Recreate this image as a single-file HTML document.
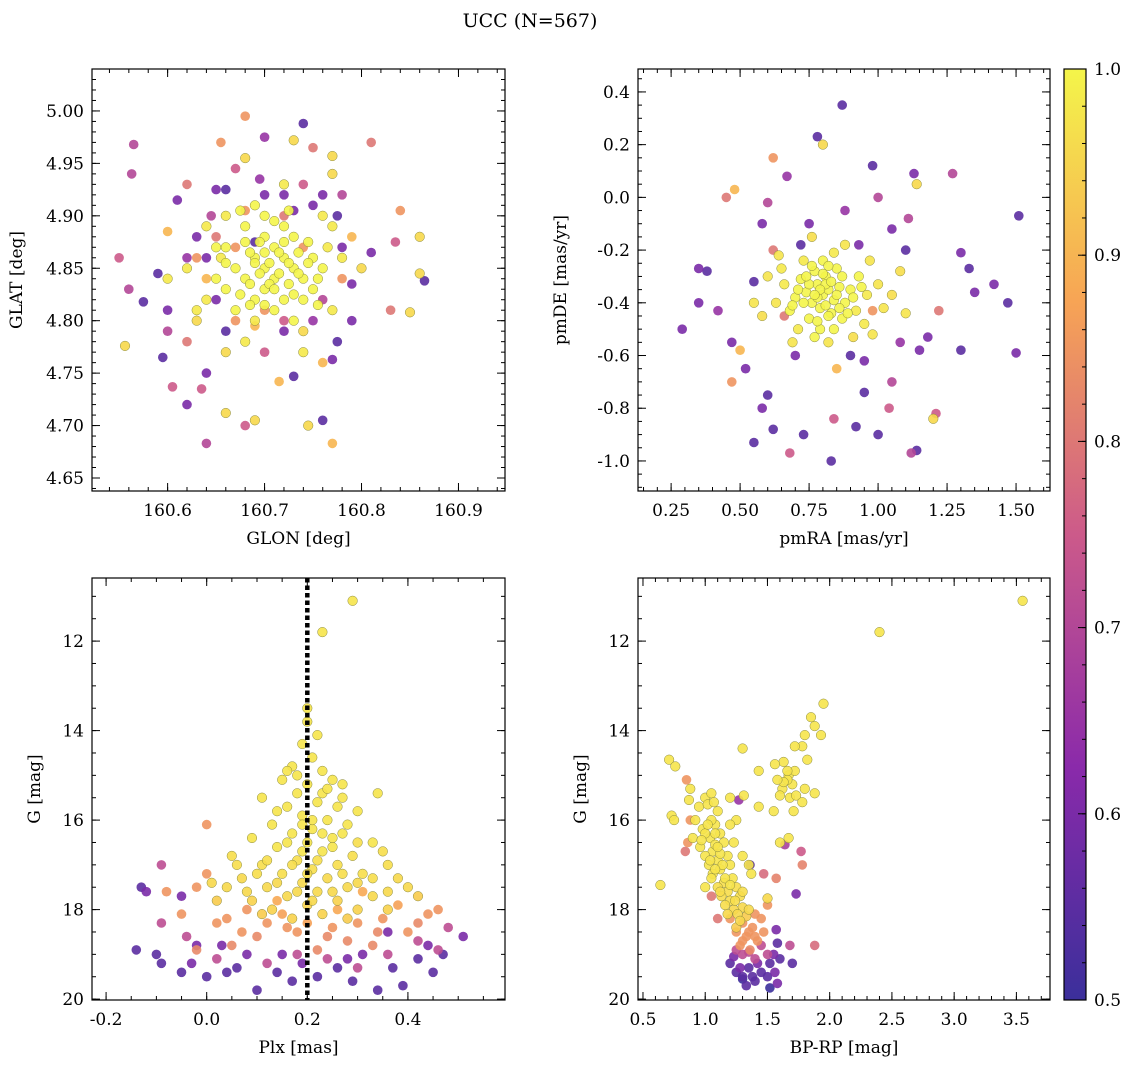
<!DOCTYPE html>
<html><head><meta charset="utf-8"><style>
html,body{margin:0;padding:0;background:#fff;}
svg{display:block;font-family:"DejaVu Serif","Liberation Serif",serif;}
</style></head><body>
<svg id="fig" width="1136" height="1068" viewBox="0 0 1136 1068" xmlns="http://www.w3.org/2000/svg">
<text x="530" y="27" font-size="19" text-anchor="middle">UCC (N=567)</text>
<defs><linearGradient id="plasma" x1="0" y1="1" x2="0" y2="0">
<stop offset="0" stop-color="#3b2f9b"/><stop offset="0.25" stop-color="#8a2aaa"/><stop offset="0.5" stop-color="#cc5a8a"/><stop offset="0.75" stop-color="#f7a455"/><stop offset="1" stop-color="#f4f54a"/></linearGradient></defs>
</svg>
<script>
// ---- data: [x, y, membership probability] ----
const glonGlat = [[160.55,4.86,.75],[160.556,4.776,.95],[160.56,4.83,.7],[160.565,4.968,.7],[160.563,4.94,.7],[160.575,4.818,.55],[160.59,4.845,.55],[160.595,4.765,.55],[160.605,4.737,.75],[160.62,4.72,.6],[160.64,4.683,.7],[160.66,4.712,.95],[160.68,4.7,.75],[160.69,4.705,.95],[160.745,4.7,.95],[160.76,4.705,.55],[160.77,4.683,.9],[160.74,4.988,.55],[160.68,4.995,.85],[160.7,4.975,.65],[160.73,4.972,.95],[160.81,4.97,.8],[160.77,4.957,.95],[160.75,4.965,.8],[160.655,4.97,.85],[160.62,4.93,.8],[160.61,4.915,.6],[160.6,4.885,.9],[160.835,4.875,.75],[160.86,4.88,.95],[160.865,4.838,.55],[160.86,4.845,.95],[160.85,4.808,.95],[160.83,4.81,.8],[160.84,4.905,.85],[160.81,4.865,.6],[160.8,4.85,.95],[160.79,4.88,.9],[160.79,4.8,.6],[160.775,4.78,.55],[160.77,4.763,.6],[160.76,4.76,.9],[160.73,4.747,.55],[160.715,4.742,.9],[160.7,4.77,.75],[160.66,4.77,.95],[160.64,4.75,.6],[160.635,4.735,.75],[160.63,4.8,.95],[160.62,4.78,.8],[160.6,4.81,.6],[160.6,4.79,.7],[160.62,4.86,.65],[160.63,4.88,.6],[160.645,4.9,.7],[160.65,4.925,.6],[160.67,4.945,.75],[160.68,4.955,.95],[160.695,4.935,.65],[160.72,4.92,.6],[160.74,4.93,.75],[160.75,4.91,.6],[160.77,4.94,.95],[160.78,4.92,.7],[160.775,4.9,.55],[160.79,4.835,.6],[160.76,4.82,.7],[160.74,4.79,.95],[160.72,4.8,.75],[160.69,4.795,.9],[160.67,4.8,.85],[160.65,4.82,.6],[160.64,4.84,.9],
[160.70,4.85,1],[160.71,4.84,1],[160.72,4.86,1],[160.69,4.86,1],[160.70,4.83,1],[160.73,4.85,1],[160.68,4.84,1],[160.71,4.87,1],[160.74,4.84,1],[160.67,4.85,1],[160.70,4.88,1],[160.72,4.82,1],[160.69,4.82,1],[160.75,4.86,1],[160.66,4.87,1],[160.73,4.88,1],[160.71,4.81,1],[160.68,4.89,1],[160.76,4.85,1],[160.65,4.84,1],[160.70,4.90,1],[160.74,4.82,1],[160.67,4.81,1],[160.72,4.89,1],[160.69,4.91,1],[160.75,4.83,1],[160.66,4.83,1],[160.73,4.80,1],[160.715,4.845,1],[160.705,4.855,1],[160.695,4.845,1],[160.725,4.835,1],[160.685,4.865,1],[160.735,4.865,1],[160.765,4.87,.98],[160.655,4.86,.98],[160.64,4.82,.98],[160.78,4.86,.98],[160.62,4.85,.98],[160.60,4.84,.98],[160.68,4.78,.98],[160.74,4.77,.98],[160.76,4.90,.98],[160.66,4.90,.98],[160.63,4.81,.98],[160.77,4.81,.98],[160.72,4.93,.98],[160.69,4.80,.98],
[160.705,4.835,1],[160.715,4.865,1],[160.695,4.875,1],[160.725,4.855,1],[160.685,4.835,1],[160.735,4.845,1],[160.745,4.875,1],[160.675,4.825,1],[160.71,4.895,1],[160.69,4.855,1],[160.72,4.875,1],[160.70,4.815,1],[160.66,4.855,1],[160.745,4.855,1],[160.68,4.875,1],[160.73,4.825,1],[160.755,4.84,1],[160.65,4.87,1],[160.71,4.83,1],[160.70,4.865,1],[160.725,4.905,1],[160.675,4.905,1],[160.685,4.815,1],[160.755,4.815,1],[160.64,4.89,.98],[160.77,4.89,.98],
[160.67,4.87,.85],[160.74,4.87,.85],[160.65,4.88,.8],[160.72,4.90,.8],[160.78,4.84,.85],[160.63,4.86,.85],[160.7,4.81,.85],[160.68,4.905,.85],[160.69,4.875,.55],[160.73,4.905,.6],[160.66,4.925,.55],[160.76,4.92,.6],[160.64,4.86,.6],[160.78,4.87,.6],[160.72,4.79,.6],[160.66,4.79,.55],[160.7,4.92,.6],[160.75,4.80,.65]];

const pmraPmde = [[0.87,0.35,.55],[0.78,0.23,.55],[0.8,0.2,.95],[0.62,0.15,.85],[0.67,0.08,.65],[0.98,0.12,.55],[1.13,0.09,.6],[1.27,0.09,.7],[1.14,0.05,.95],[1.11,-0.08,.7],[1.51,-0.07,.55],[0.48,0.03,.9],[0.45,0.0,.8],[0.38,-0.28,.55],[0.35,-0.27,.6],[0.29,-0.5,.6],[0.35,-0.4,.6],[0.42,-0.43,.65],[0.47,-0.55,.6],[0.5,-0.58,.9],[0.47,-0.7,.85],[0.55,-0.93,.55],[0.62,-0.88,.55],[0.68,-0.97,.75],[0.73,-0.9,.55],[0.83,-1.0,.55],[0.84,-0.84,.75],[0.92,-0.87,.55],[1.0,-0.9,.55],[1.12,-0.97,.7],[1.14,-0.96,.55],[1.2,-0.84,.95],[1.21,-0.82,.75],[1.3,-0.58,.55],[1.5,-0.59,.6],[1.47,-0.4,.55],[1.42,-0.33,.6],[1.35,-0.36,.6],[1.33,-0.27,.55],[1.3,-0.21,.6],[1.22,-0.43,.8],[1.18,-0.53,.6],[1.15,-0.58,.6],[1.05,-0.7,.7],[1.04,-0.8,.75],[0.95,-0.74,.55],[0.6,-0.75,.55],[0.58,-0.8,.6],[0.52,-0.65,.6],[0.55,-0.32,.55],[0.58,-0.1,.6],[0.6,-0.02,.7],[0.62,-0.2,.8],[1.0,0.0,.7],[1.05,-0.12,.6],[1.1,-0.2,.55],[0.9,-0.6,.55],[0.7,-0.6,.6],[0.85,-0.65,.9],[0.95,-0.62,.6],[1.08,-0.55,.65],[0.98,-0.43,.85],[0.66,-0.45,.8],[0.75,-0.1,.6],[0.88,-0.05,.65],[0.93,-0.18,.6],[0.72,-0.18,.55],
[0.80,-0.37,1],[0.82,-0.35,1],[0.78,-0.33,1],[0.84,-0.39,1],[0.76,-0.40,1],[0.81,-0.30,1],[0.79,-0.42,1],[0.86,-0.34,1],[0.74,-0.36,1],[0.83,-0.44,1],[0.77,-0.28,1],[0.88,-0.40,1],[0.72,-0.31,1],[0.85,-0.27,1],[0.75,-0.46,1],[0.90,-0.35,1],[0.70,-0.38,1],[0.87,-0.46,1],[0.80,-0.24,1],[0.93,-0.30,1],[0.68,-0.43,1],[0.79,-0.50,1],[0.92,-0.43,.98],[0.73,-0.24,.98],[0.96,-0.37,.98],[0.66,-0.33,.98],[0.84,-0.21,.98],[0.71,-0.50,.98],[0.95,-0.48,.98],[0.65,-0.27,.98],[1.00,-0.33,.97],[0.63,-0.40,.97],[0.88,-0.18,.97],[0.82,-0.55,.97],[1.02,-0.42,.97],[0.60,-0.30,.97],[0.97,-0.24,.97],[0.69,-0.55,.97],[1.05,-0.37,.96],[0.76,-0.15,.96],[0.91,-0.53,.96],[0.58,-0.45,.96],[1.08,-0.28,.96],[0.81,-0.33,1],[0.78,-0.38,1],
[0.79,-0.35,1],[0.83,-0.32,1],[0.77,-0.37,1],[0.81,-0.41,1],[0.85,-0.37,1],[0.75,-0.33,1],[0.80,-0.29,1],[0.82,-0.45,1],[0.87,-0.30,1],[0.73,-0.40,1],[0.89,-0.44,1],[0.78,-0.47,1],[0.76,-0.26,1],[0.91,-0.38,1],[0.71,-0.35,1],[0.84,-0.50,1],[0.86,-0.42,1],[0.74,-0.30,1],[0.94,-0.34,1],[0.69,-0.41,1],[0.82,-0.26,1],[0.77,-0.53,1],[1.10,-0.44,.97],[0.55,-0.40,.97],[0.98,-0.52,.97],[0.64,-0.22,.97]];

const plxG = [[0.29,11.1,.97],[0.23,11.8,.97],[0.2,13.5,.97],[0.2,13.8,.97],[0.22,14.1,.97],[0.19,14.3,.97],[0.21,14.6,.97],[0.17,14.8,.97],[0.23,14.9,.97],[0.25,15.1,.97],[0.15,15.1,.97],[0.2,15.2,.97],[0.18,15.4,.97],[0.34,15.4,.97],[0.11,15.5,.97],[0.27,15.5,.97],[0.22,15.6,.97],[0.16,15.7,.97],[0.3,15.8,.97],[0.19,15.9,.97],[0.24,16.0,.97],[0.13,16.1,.97],[0.28,16.1,.97],[0.21,16.2,.97],[0.17,16.3,.97],[0.09,16.4,.97],[0.25,16.4,.97],[0.33,16.5,.97],[0.2,16.5,.97],[0.14,16.6,.97],[0.23,16.7,.97],[0.05,16.8,.96],[0.29,16.8,.96],[0.18,16.9,.96],[0.11,17.0,.96],[0.26,17.0,.96],[0.36,17.0,.96],[0.21,17.1,.96],[0.15,17.2,.96],[0.31,17.2,.96],[0.07,17.3,.95],[0.24,17.3,.95],[0.19,17.4,.95],[0.12,17.5,.95],[0.28,17.5,.95],[0.04,17.5,.95],[0.4,17.5,.95],[0.22,17.6,.95],[0.16,17.7,.95],[0.33,17.7,.95],[0.09,17.8,.94],[0.26,17.8,.94],[0.2,17.9,.94],[0.13,18.0,.94],[0.3,18.0,.94],[0.36,18.0,.94],[0.23,18.1,.94],[0.17,18.2,.94],[0.01,17.4,.95],[0.38,17.3,.95],[0.06,17.0,.96],[0.35,16.7,.96],[0.27,15.2,.97],[0.16,14.9,.97],[0.25,16.6,.97],[0.19,16.7,.97],[0.21,16.0,.97],[0.23,15.4,.97],
[0.18,15.0,.97],[0.24,15.3,.97],[0.14,15.8,.97],[0.26,15.7,.97],[0.19,16.1,.97],[0.23,16.3,.97],[0.16,16.5,.97],[0.27,16.3,.97],[0.12,16.9,.96],[0.22,16.9,.96],[0.3,16.5,.96],[0.17,17.0,.96],[0.2,17.2,.96],[0.27,17.2,.96],[0.1,17.2,.96],[0.33,17.3,.96],[0.18,17.6,.95],[0.25,17.6,.95],[0.08,17.6,.95],[0.14,17.4,.95],[0.3,17.4,.95],[0.36,17.6,.95],[0.21,17.8,.95],[0.11,18.1,.93],[0.28,18.2,.93],[0.02,17.8,.93],[0.42,17.7,.93],
[0.0,16.1,.85],[-0.02,17.5,.85],[0.0,17.2,.85],[-0.05,18.1,.85],[0.02,18.3,.85],[0.08,18.0,.85],[0.12,18.3,.85],[0.18,18.5,.85],[0.25,18.4,.85],[0.3,18.3,.85],[0.35,18.2,.85],[0.4,18.5,.85],[0.44,18.1,.85],[0.28,18.7,.83],[0.22,18.9,.83],[0.1,18.6,.83],[0.05,18.8,.83],[-0.02,18.9,.83],[0.15,18.1,.87],[0.33,18.8,.83],[0.38,17.9,.87],[0.46,18.0,.85],[0.2,18.3,.87],[0.26,18.0,.88],[0.14,17.8,.88],[0.07,18.5,.85],[-0.08,17.6,.85],[0.31,17.6,.88],[0.16,18.4,.85],[0.24,18.6,.83],[0.34,18.5,.83],[0.04,18.2,.85],[0.42,18.3,.83],
[-0.09,17.0,.72],[-0.09,18.3,.72],[0.02,19.1,.72],[0.12,19.2,.72],[0.24,19.1,.72],[0.36,19.0,.72],[0.46,18.9,.72],[0.3,19.3,.72],[0.18,19.0,.72],[-0.04,18.6,.72],[0.42,18.7,.72],[0.48,18.4,.72],
[-0.14,18.9,.55],[-0.13,17.5,.55],[-0.1,19.0,.55],[-0.12,17.6,.6],[-0.05,17.7,.6],[-0.09,19.2,.55],[-0.05,19.4,.55],[-0.03,19.2,.6],[0.0,19.5,.55],[0.03,18.8,.6],[0.06,19.3,.55],[0.1,19.8,.55],[0.14,19.4,.55],[0.17,19.6,.55],[0.19,19.2,.6],[0.22,19.5,.55],[0.26,19.3,.55],[0.29,19.6,.55],[0.31,19.0,.6],[0.34,19.8,.55],[0.37,19.3,.55],[0.39,19.7,.55],[0.42,19.1,.55],[0.45,19.4,.55],[0.47,19.0,.55],[0.51,18.6,.6],[0.44,18.8,.6],[-0.02,18.8,.6],[0.08,19.0,.6],[0.36,18.5,.6],[0.15,19.0,.6],[0.04,19.4,.55],[0.28,19.1,.6]];

const colorG = [[3.55,11.1,.97],[2.4,11.8,.97],[1.95,13.4,.97],[1.85,13.7,.97],[1.88,13.9,.97],[1.93,14.1,.97],[1.8,14.1,.97],[1.78,14.35,.97],[1.72,14.35,.97],[1.82,14.65,.97],[1.3,14.4,.97],[1.43,14.9,.97],[0.71,14.65,.97],[0.76,14.8,.97],[0.73,15.9,.97],[0.75,16.0,.97],[1.63,14.7,.97],[1.67,15.0,.97],[1.7,15.2,.97],[1.62,15.3,.97],[1.68,15.5,.97],[1.72,14.9,.97],[1.6,15.45,.97],[1.73,15.45,.97],[1.66,15.1,.97],[1.56,14.75,.97],[1.8,15.3,.97],[1.78,15.6,.97],[1.88,15.4,.97],[1.55,15.8,.97],[1.71,15.8,.97],[1.6,16.5,.97],[1.67,16.4,.97],[1.43,15.7,.97],[1.2,15.5,.97],[1.31,15.45,.97],[1.0,15.5,.97],[1.05,15.4,.97],[0.95,15.7,.97],[1.1,15.8,.97],[1.02,15.65,.97],[1.07,15.6,.97],[0.88,15.3,.97],[0.87,15.55,.97],[0.92,16.0,.97],[1.08,16.1,.97],[0.98,16.2,.97],[1.12,16.3,.97],[1.04,16.4,.97],[0.9,16.4,.97],[1.15,16.5,.97],[1.06,16.7,.97],[1.0,16.8,.97],[1.18,16.8,.97],[1.1,16.9,.97],[1.03,17.0,.97],[1.2,17.0,.97],[1.12,17.1,.97],[1.06,17.2,.97],[1.22,17.3,.97],[1.15,17.4,.96],[1.1,17.5,.96],[1.25,17.5,.96],[1.18,17.6,.96],[1.13,17.7,.96],[1.28,17.7,.96],[1.2,17.8,.96],[1.16,17.9,.96],[1.3,17.95,.95],[1.23,18.0,.95],[1.35,18.0,.95],[1.26,18.1,.95],[1.23,16.5,.97],[1.3,16.8,.97],[1.25,16.0,.97],[1.2,16.1,.97],[1.05,16.0,.97],[1.0,16.3,.97],[0.96,16.6,.97],[1.08,16.55,.97],[1.12,16.75,.97],[1.05,17.3,.97],[1.0,17.5,.97],[1.35,17.0,.97],[1.37,17.2,.97],[0.64,17.45,.97],[1.5,17.75,.95],
[1.02,16.1,.97],[1.08,16.3,.97],[0.97,16.45,.97],[1.1,16.6,.97],[1.04,16.9,.97],[1.14,17.0,.97],[1.08,17.1,.97],[1.16,17.3,.97],[1.2,17.45,.97],[1.12,17.6,.96],[1.24,17.8,.96],[1.3,17.6,.96],[1.18,18.1,.95],[1.28,18.25,.95],[1.25,18.4,.93],[1.33,18.15,.93],[1.66,14.9,.97],[1.63,15.15,.97],[1.58,15.1,.97],
[0.85,15.1,.85],[0.84,16.7,.8],[0.88,16.0,.85],[0.86,16.5,.85],[1.05,17.7,.8],[1.2,18.2,.85],[1.3,18.3,.85],[1.38,18.4,.85],[1.25,18.5,.85],[1.33,18.6,.85],[1.42,18.7,.85],[1.28,18.8,.85],[1.36,18.9,.83],[1.47,18.5,.85],[1.45,18.2,.85],[1.88,18.8,.78],[1.5,17.9,.85],[1.1,18.2,.8],[1.4,18.1,.85],[1.78,17.0,.82],[1.57,17.3,.82],[1.47,17.2,.78],[1.77,16.7,.75],[1.35,18.5,.85],[1.4,18.6,.85],[1.3,18.7,.85],
[1.3,19.0,.72],[1.4,19.1,.72],[1.35,18.95,.72],[1.45,18.8,.72],[1.25,18.9,.72],[1.5,19.0,.72],[1.68,18.8,.72],[1.27,15.55,.65],[1.64,16.55,.68],
[1.2,19.2,.55],[1.25,19.4,.55],[1.3,19.5,.55],[1.35,19.3,.55],[1.4,19.6,.55],[1.45,19.4,.55],[1.5,19.5,.55],[1.52,19.75,.5],[1.42,19.2,.6],[1.33,19.7,.55],[1.28,19.3,.6],[1.52,19.2,.55],[1.6,19.1,.55],[1.7,19.2,.55],[1.58,19.65,.6],[1.38,19.5,.55],[1.55,19.0,.6],[1.3,19.55,.5],[1.23,19.05,.6],[1.56,19.4,.6],[1.57,18.45,.6],[1.58,18.75,.55],[1.73,17.65,.6],[1.36,17.0,.55]];

const NS = "http://www.w3.org/2000/svg";
const svg = document.getElementById('fig');
function mk(tag, attrs, parent){const e=document.createElementNS(NS,tag);for(const k in attrs)e.setAttribute(k,attrs[k]);(parent||svg).appendChild(e);return e;}
const stops=[[0,[59,47,155]],[0.25,[138,42,170]],[0.5,[204,90,138]],[0.75,[247,164,85]],[0.88,[248,210,75]],[1,[244,245,74]]];
function cmap(p){let t=Math.max(0,Math.min(1,(p-0.5)/0.5));for(let i=1;i<stops.length;i++){if(t<=stops[i][0]){const a=stops[i-1],b=stops[i];const f=(t-a[0])/(b[0]-a[0]);const c=a[1].map((v,j)=>Math.round(v+(b[1][j]-v)*f));return `rgb(${c[0]},${c[1]},${c[2]})`;}}return 'rgb(244,245,74)';}

function panel(cfg){
  const {name,x0,y0,x1,y1,xmin,xmax,ymin,ymax,invY,xt,xfmt,yt,yfmt,xminor,yminor,data,xlabel,ylabel,ylx}=cfg;
  const g=mk('g',{});
  
  
  const sx=v=>x0+(v-xmin)/(xmax-xmin)*(x1-x0);
  const sy=v=>invY? y0+(v-ymin)/(ymax-ymin)*(y1-y0) : y1-(v-ymin)/(ymax-ymin)*(y1-y0);
  const pts=mk('g',{},g);
  
  
  const sorted=data.slice().sort((a,b)=>a[2]-b[2]);
  sorted.forEach(d=>{
    const c=mk('circle',{cx:sx(d[0]).toFixed(1),cy:sy(d[1]).toFixed(1),r:4.8,fill:cmap(d[2]),'fill-opacity':0.9,stroke:d[2]>0.9?'#8a8a40':'none','stroke-width':0.5},pts);
    
    
  });
  if(cfg.vline!==undefined){
    const l=mk('line',{x1:sx(cfg.vline),x2:sx(cfg.vline),y1:y0,y2:y1,stroke:'#000','stroke-width':4.5,'stroke-dasharray':'4.5 3'},g);
    
    
  }
  const tk=mk('g',{stroke:'#000','stroke-width':1},g);
  
  
  for(let v=Math.ceil(xmin/xminor)*xminor; v<=xmax+1e-9; v+=xminor){const X=sx(v);mk('line',{x1:X,x2:X,y1:y1,y2:y1-4},tk);mk('line',{x1:X,x2:X,y1:y0,y2:y0+4},tk);}
  for(let v=Math.ceil(ymin/yminor)*yminor; v<=ymax+1e-9; v+=yminor){const Y=sy(v);mk('line',{x1:x0,x2:x0+4,y1:Y,y2:Y},tk);mk('line',{x1:x1,x2:x1-4,y1:Y,y2:Y},tk);}
  xt.forEach(v=>{const X=sx(v);mk('line',{x1:X,x2:X,y1:y1,y2:y1-8},tk);mk('line',{x1:X,x2:X,y1:y0,y2:y0+8},tk);
    const t=mk('text',{x:X,y:y1+25,'font-size':17,'text-anchor':'middle'},g);t.textContent=xfmt(v);
    
    });
  yt.forEach(v=>{const Y=sy(v);mk('line',{x1:x0,x2:x0+8,y1:Y,y2:Y},tk);mk('line',{x1:x1,x2:x1-8,y1:Y,y2:Y},tk);
    const t=mk('text',{x:x0-8,y:Y+6,'font-size':17,'text-anchor':'end'},g);t.textContent=yfmt(v);
    
    });
  const fr=mk('rect',{x:x0,y:y0,width:x1-x0,height:y1-y0,fill:'none',stroke:'#000','stroke-width':1.2},g);
  
  
  const xl=mk('text',{x:(x0+x1)/2,y:y1+53,'font-size':17,'text-anchor':'middle'},g);xl.textContent=xlabel;
  
  
  const ym=(y0+y1)/2;
  const yl=mk('text',{x:ylx,y:ym,'font-size':17,'text-anchor':'middle',transform:`rotate(-90 ${ylx} ${ym})`},g);yl.textContent=ylabel;
  
  
}
const f2=v=>v.toFixed(2), f1=v=>v.toFixed(1), f0=v=>v.toFixed(0);
panel({name:'position-panel',x0:92,y0:69,x1:505,y1:491,xmin:160.522,xmax:160.948,ymin:4.6376,ymax:5.040,xt:[160.6,160.7,160.8,160.9],xfmt:f1,yt:[4.65,4.70,4.75,4.80,4.85,4.90,4.95,5.00],yfmt:f2,xminor:0.02,yminor:0.01,data:glonGlat,xlabel:'GLON [deg]',ylabel:'GLAT [deg]',ylx:22});
panel({name:'proper-motion-panel',x0:638,y0:69,x1:1050,y1:491,xmin:0.130,xmax:1.623,ymin:-1.114,ymax:0.487,xt:[0.25,0.5,0.75,1.0,1.25,1.5],xfmt:f2,yt:[-1.0,-0.8,-0.6,-0.4,-0.2,0.0,0.2,0.4],yfmt:f1,xminor:0.05,yminor:0.05,data:pmraPmde,xlabel:'pmRA [mas/yr]',ylabel:'pmDE [mas/yr]',ylx:566});
panel({name:'parallax-panel',x0:92,y0:578,x1:505,y1:1000,xmin:-0.228,xmax:0.593,ymin:10.59,ymax:20.02,invY:true,xt:[-0.2,0.0,0.2,0.4],xfmt:f1,yt:[12,14,16,18,20],yfmt:f0,xminor:0.05,yminor:0.5,data:plxG,xlabel:'Plx [mas]',ylabel:'G [mag]',ylx:40,vline:0.2});
panel({name:'cmd-panel',x0:638,y0:578,x1:1050,y1:1000,xmin:0.46,xmax:3.77,ymin:10.59,ymax:20.02,invY:true,xt:[0.5,1.0,1.5,2.0,2.5,3.0,3.5],xfmt:f1,yt:[12,14,16,18,20],yfmt:f0,xminor:0.1,yminor:0.5,data:colorG,xlabel:'BP-RP [mag]',ylabel:'G [mag]',ylx:586});

const cbTicks=[0.5,0.6,0.7,0.8,0.9,1.0];
const cb=mk('g',{});


const cy0=69, cy1=1000, cx0=1064, cx1=1086;
const cr=mk('rect',{x:cx0,y:cy0,width:cx1-cx0,height:cy1-cy0,fill:'url(#plasma)',stroke:'#000','stroke-width':1.2},cb);


const cyv=v=>cy1-(v-0.5)/0.5*(cy1-cy0);
for(let v=0.5;v<=1.0001;v+=0.02){mk('line',{x1:cx1,x2:cx1-4,y1:cyv(v),y2:cyv(v),stroke:'#000'},cb);}
cbTicks.forEach(v=>{mk('line',{x1:cx1,x2:cx1-8,y1:cyv(v),y2:cyv(v),stroke:'#000'},cb);
  const t=mk('text',{x:cx1+8,y:cyv(v)+6,'font-size':17},cb);t.textContent=v.toFixed(1);
  
  });
</script>
</body></html>
